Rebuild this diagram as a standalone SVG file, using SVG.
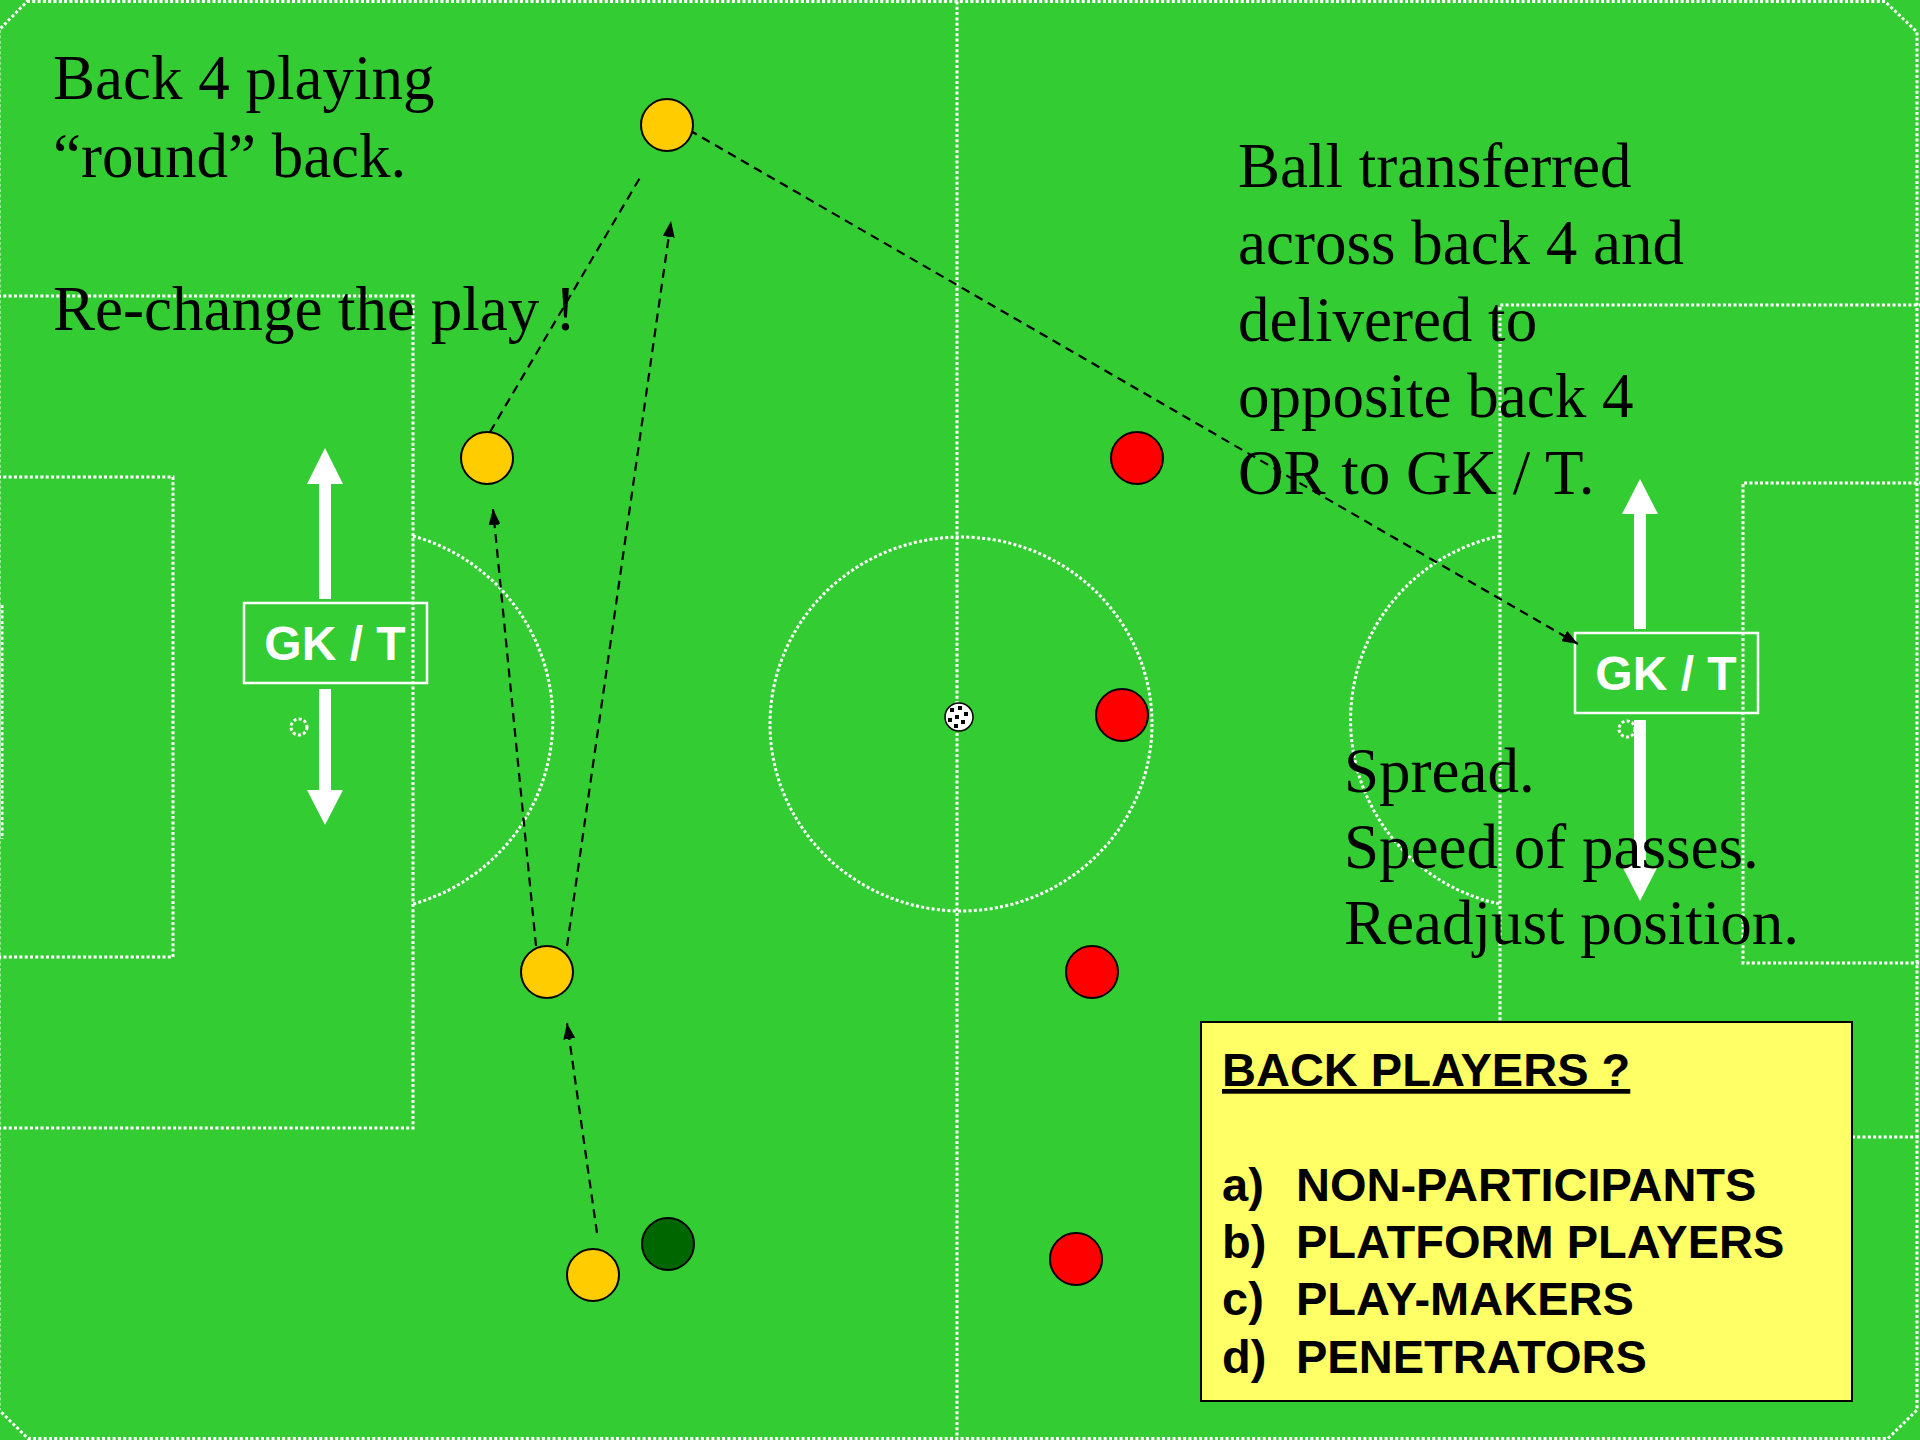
<svg xmlns="http://www.w3.org/2000/svg" width="1920" height="1440" viewBox="0 0 1920 1440">
<defs>
<style>
.pl{fill:none;stroke:#ffffff;stroke-width:3;stroke-dasharray:3 2.3}
.pass{fill:none;stroke:#000000;stroke-width:2.2;stroke-dasharray:9 6}
.pl-y{fill:#FFCC00;stroke:#000000;stroke-width:2}
.pl-r{fill:#FF0000;stroke:#000000;stroke-width:2}
.pl-g{fill:#006600;stroke:#000000;stroke-width:2}
.note{font-family:"Liberation Serif","Times New Roman",serif;font-size:63px;fill:#000000}
.gk{font-family:"Liberation Sans",Arial,sans-serif;font-size:48px;font-weight:bold;fill:#ffffff}
.gkbox{fill:none;stroke:#ffffff;stroke-width:2.5}
.warrow{fill:#ffffff}
.leg{font-family:"Liberation Sans",Arial,sans-serif;font-size:47px;font-weight:bold;fill:#000000}
</style>
<marker id="ah" viewBox="0 0 16 12" refX="16" refY="6" markerWidth="16" markerHeight="12" markerUnits="userSpaceOnUse" orient="auto">
<path d="M0,0 L16,6 L0,12 Z" fill="#000000"/>
</marker>
</defs>
<rect x="0" y="0" width="1920" height="1440" fill="#33CC33"/>
<g id="pitch">
<path class="pl" d="M27,1.5 L1885,1.5 L1917,32 L1917,1410 L1888,1438.5 L28,1438.5 L-1,1410 L-1,30 Z"/>
<line class="pl" x1="957" y1="1.5" x2="957" y2="1438.5"/>
<ellipse class="pl" cx="961" cy="724" rx="191" ry="187"/>
<polyline class="pl" points="-2,296 413,296 413,1128 -2,1128"/>
<polyline class="pl" points="-2,477 173,477 173,957 -2,957"/>
<line class="pl" x1="2" y1="605" x2="2" y2="839"/>
<path class="pl" d="M413,536 A191,191 0 0,1 413,904"/>
<circle class="pl" cx="299" cy="727" r="8"/>
<polyline class="pl" points="1922,305 1500,305 1500,1137 1922,1137"/>
<polyline class="pl" points="1922,483 1743,483 1743,963 1922,963"/>
<path class="pl" d="M1500,536 A188,188 0 0,0 1500,904"/>
<circle class="pl" cx="1627" cy="729" r="8"/>
</g>
<g id="ball">
<circle cx="959" cy="717" r="14" fill="#ffffff" stroke="#000000" stroke-width="1.5"/>
<rect x="950" y="708" width="4" height="4" fill="#000"/>
<rect x="958" y="706" width="4" height="4" fill="#000"/>
<rect x="964" y="712" width="4" height="4" fill="#000"/>
<rect x="955" y="715" width="4" height="4" fill="#000"/>
<rect x="948" y="718" width="4" height="4" fill="#000"/>
<rect x="961" y="720" width="4" height="4" fill="#000"/>
<rect x="954" y="724" width="4" height="4" fill="#000"/>
</g>
<g id="gk-left">
<path class="warrow" d="M325,448 L343,484 L331,484 L331,599 L319,599 L319,484 L307,484 Z"/>
<path class="warrow" d="M325,825 L343,790 L331,790 L331,689 L319,689 L319,790 L307,790 Z"/>
<rect class="gkbox" x="244" y="603" width="183" height="80"/>
<text class="gk" x="335" y="660" text-anchor="middle">GK / T</text>
</g>
<g id="gk-right">
<path class="warrow" d="M1640,479 L1658,514 L1646,514 L1646,629 L1634,629 L1634,514 L1622,514 Z"/>
<path class="warrow" d="M1640,901 L1658,866 L1646,866 L1646,720 L1634,720 L1634,866 L1622,866 Z"/>
<rect class="gkbox" x="1575" y="633" width="183" height="80"/>
<text class="gk" x="1666" y="690" text-anchor="middle">GK / T</text>
</g>
<g id="connectors">
<line class="pass" x1="597" y1="1233" x2="567" y2="1023" marker-end="url(#ah)"/>
<line class="pass" x1="536" y1="946" x2="493" y2="509" marker-end="url(#ah)"/>
<line class="pass" x1="567" y1="946" x2="671" y2="221" marker-end="url(#ah)"/>
<line class="pass" x1="490" y1="432" x2="641" y2="176"/>
<line class="pass" x1="689" y1="130" x2="1578" y2="644" marker-end="url(#ah)"/>
</g>
<g id="player-y1"><circle class="pl-y" cx="667" cy="125" r="26"/></g>
<g id="player-y2"><circle class="pl-y" cx="487" cy="458" r="26"/></g>
<g id="player-y3"><circle class="pl-y" cx="547" cy="972" r="26"/></g>
<g id="player-y4"><circle class="pl-y" cx="593" cy="1275" r="26"/></g>
<g id="player-g1"><circle class="pl-g" cx="668" cy="1244" r="26"/></g>
<g id="player-r1"><circle class="pl-r" cx="1137" cy="458" r="26"/></g>
<g id="player-r2"><circle class="pl-r" cx="1122" cy="715" r="26"/></g>
<g id="player-r3"><circle class="pl-r" cx="1092" cy="972" r="26"/></g>
<g id="player-r4"><circle class="pl-r" cx="1076" cy="1259" r="26"/></g>
<g id="note-left">
<text class="note" x="53" y="99">Back 4 playing</text>
<text class="note" x="53" y="177">“round” back.</text>
<text class="note" x="53" y="330">Re-change the play !</text>
</g>
<g id="note-right">
<text class="note" x="1238" y="187">Ball transferred</text>
<text class="note" x="1238" y="264">across back 4 and</text>
<text class="note" x="1238" y="341">delivered to</text>
<text class="note" x="1238" y="417">opposite back 4</text>
<text class="note" x="1238" y="494">OR to GK / T.</text>
</g>
<g id="note-bottom">
<text class="note" x="1344" y="792">Spread.</text>
<text class="note" x="1344" y="868">Speed of passes.</text>
<text class="note" x="1344" y="944">Readjust position.</text>
</g>
<g id="legend">
<rect x="1201" y="1022" width="651" height="379" fill="#FFFF66" stroke="#000000" stroke-width="2"/>
<text class="leg" x="1222" y="1086" text-decoration="underline">BACK PLAYERS ?</text>
<text class="leg" x="1222" y="1201">a)</text><text class="leg" x="1296" y="1201">NON-PARTICIPANTS</text>
<text class="leg" x="1222" y="1258">b)</text><text class="leg" x="1296" y="1258">PLATFORM PLAYERS</text>
<text class="leg" x="1222" y="1315">c)</text><text class="leg" x="1296" y="1315">PLAY-MAKERS</text>
<text class="leg" x="1222" y="1373">d)</text><text class="leg" x="1296" y="1373">PENETRATORS</text>
</g>
</svg>
